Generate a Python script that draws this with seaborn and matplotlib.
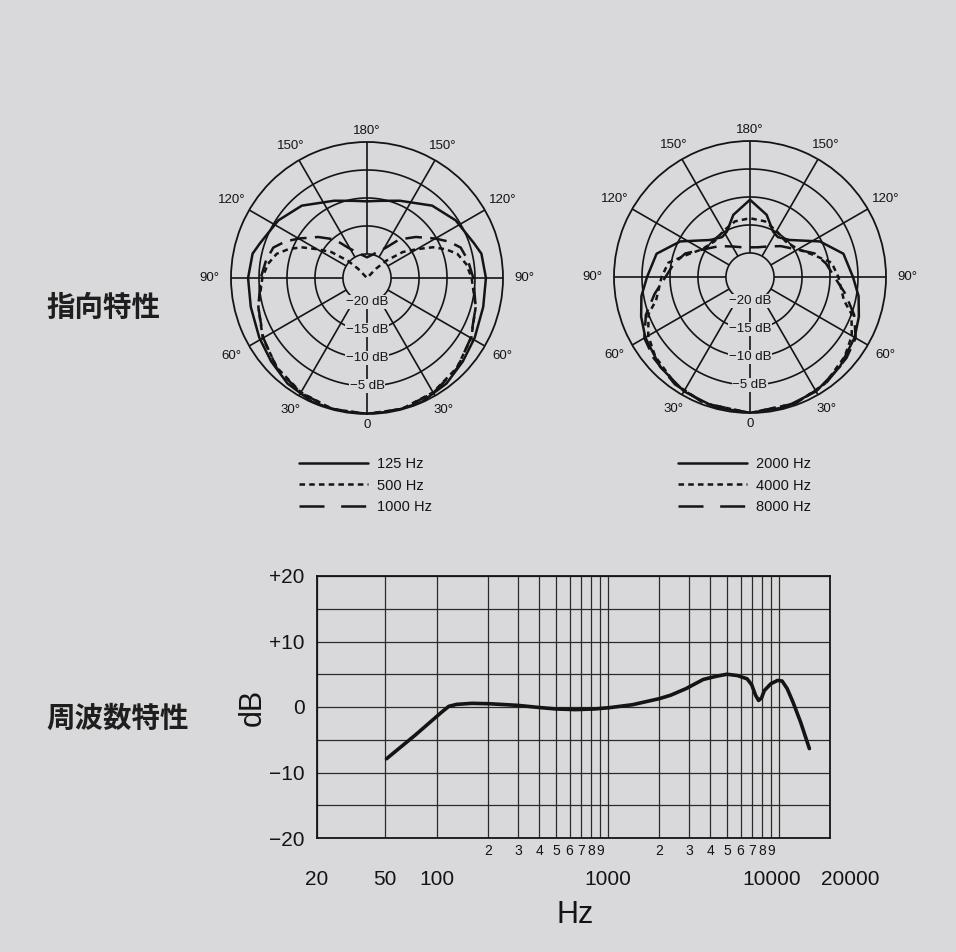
import numpy as np
import matplotlib
matplotlib.use("Agg")
import matplotlib.pyplot as plt
import seaborn as sns
from matplotlib.lines import Line2D
from matplotlib.ticker import FixedLocator, FuncFormatter, NullFormatter
import matplotlib.transforms as mtransforms

sns.set_theme(style="white")
BG = "#d9d9db"
INK = "#141414"
plt.rcParams["font.family"] = ["Liberation Sans", "DejaVu Sans"]
plt.rcParams["lines.scale_dashes"] = False
plt.rcParams["axes.unicode_minus"] = True

# ---------------- data ----------------
# polar patterns (one side, 0..180 deg), dB
angles_125 = [0, 12, 24, 37, 49, 61, 76, 90, 102, 108, 123, 138, 157, 170, 180]
db_125 = [0, 0, -0.1, -0.7, -1.6, -2.3, -2.9, -3.05, -3.4, -4.2, -5.4, -6.9, -9.3, -10.3, -10.6]
angles_500 = [0, 15, 30, 45, 60, 75, 90, 98, 105, 110, 115, 120, 126, 132, 136, 142, 180]
db_500 = [0, -0.1, -0.7, -1.6, -2.8, -4.2, -5.6, -6.4, -7.6, -9.3, -11.3, -14.0, -16.4, -19.7, -22.0, -24.3, -24.3]
angles_1000 = [0, 15, 30, 45, 60, 75, 90, 100, 108, 114, 120, 130, 140, 148, 160, 170, 180]
db_1000 = [0, -0.1, -0.6, -1.5, -2.9, -4.2, -5.3, -6.0, -6.7, -8.3, -10.2, -12.9, -15.3, -17.9, -19.5, -20.2, -20.6]

angles_2000 = [0, 15, 30, 45, 60, 70, 80, 90, 104, 117, 133, 145, 153, 165, 180]
db_2000 = [0, -0.2, -0.7, -1.6, -2.7, -3.6, -4.6, -5.9, -7.1, -10.3, -14.6, -15.6, -15.2, -12.8, -10.5]
angles_4000 = [0, 20, 35, 50, 60, 70, 76, 90, 100, 110, 120, 135, 150, 165, 180]
db_4000 = [0, -0.3, -1.0, -2.2, -3.3, -5.0, -7.0, -8.5, -9.5, -12.5, -14.4, -15.3, -14.8, -14.0, -13.8]
angles_8000 = [0, 20, 35, 50, 60, 70, 80, 90, 100, 110, 120, 135, 150, 165, 180]
db_8000 = [0, -0.3, -0.9, -1.8, -2.5, -4.5, -7.0, -9.2, -10.5, -12.0, -14.5, -16.5, -18.0, -18.8, -19.0]

left_labels = ["125 Hz", "500 Hz", "1000 Hz"]
right_labels = ["2000 Hz", "4000 Hz", "8000 Hz"]
ring_levels = [-20, -15, -10, -5]
angle_ticks = [0, 30, 60, 90, 120, 150, 180, 210, 240, 270, 300, 330]

# frequency response
freq_hz = [51, 75, 107, 118, 131, 161, 203, 299, 407, 500, 647, 837, 1028, 1400, 2005,
           2340, 2876, 3625, 4339, 4986, 5760, 6550, 6966, 7337, 7645, 7960, 8256,
           9015, 9885, 10500, 11240, 12140, 13460, 15150]
resp_db = [-7.9, -4.3, -0.8, 0.1, 0.4, 0.56, 0.5, 0.25, -0.1, -0.3, -0.4, -0.3, -0.1, 0.35, 1.27,
           1.8, 2.8, 4.2, 4.7, 5.0, 4.8, 4.3, 3.4, 1.8, 1.0, 1.4, 2.5,
           3.55, 4.06, 3.96, 2.8, 0.76, -2.3, -6.35]
major_x = [20, 50, 100, 1000, 10000, 20000]
minor_x = [200, 300, 400, 500, 600, 700, 800, 900, 2000, 3000, 4000, 5000, 6000, 7000, 8000, 9000]
y_major = [-20, -10, 0, 10, 20]
y_labels = ["\u221220", "\u221210", "0", "+10", "+20"]
y_minor = [-15, -5, 5, 15]

# ---------------- figure ----------------
W, H = 956, 952
fig = plt.figure(figsize=(W / 100, H / 100), dpi=100, facecolor=BG)

RMIN = -24.3
SHORT = (0, (4, 3))
LONG_POLAR = (0, (12, 6))
LONG_LEG = (0, (18, 12))


def full_curve(angles, vals):
    a = np.array(angles, dtype=float)
    v = np.array(vals, dtype=float)
    aa = np.concatenate([a, 360 - a[::-1][1:]])
    vv = np.concatenate([v, v[::-1][1:]])
    return np.radians(aa), vv


def polar_panel(rect, series, labels, legend_anchor):
    ax = fig.add_axes(rect, projection="polar")
    ax.set_facecolor("none")
    ax.set_theta_zero_location("S")
    ax.set_theta_direction(-1)
    ax.set_ylim(RMIN, 0)
    ax.grid(False)
    ax.set_xticks([])
    ax.set_yticks([])
    ax.spines["polar"].set_linewidth(1.3)
    ax.spines["polar"].set_color(INK)
    circ = np.linspace(0, 2 * np.pi, 721)
    for lv in ring_levels:
        ax.plot(circ, np.full_like(circ, lv), color=INK, lw=1.2, zorder=1)
    ax.vlines(np.radians(angle_ticks), -20, 0, color=INK, lw=1.2, zorder=1)
    styles = ["-", SHORT, LONG_POLAR]
    for (angs, vals), ls in zip(series, styles):
        th, rr = full_curve(angs, vals)
        sns.lineplot(x=th, y=rr, ax=ax, sort=False, estimator=None,
                     color=INK, lw=1.8, linestyle=ls, zorder=3)
    ax.set_xlabel("")
    ax.set_ylabel("")
    for lv in ring_levels:
        ax.text(0, lv, f"\u2212{abs(lv)} dB", ha="center", va="center",
                fontsize=9.5, color=INK, zorder=5,
                bbox=dict(facecolor=BG, edgecolor="none", pad=0.6))
    for t in angle_ticks:
        lab = "0" if t == 0 else f"{min(t, 360 - t)}\u00b0"
        rpos = 1.9 + 2.0 * abs(np.sin(np.radians(t)))
        ax.text(np.radians(t), rpos, lab, ha="center", va="center",
                fontsize=9.5, color=INK, clip_on=False)
    handles = [Line2D([], [], color=INK, lw=1.8, linestyle="-"),
               Line2D([], [], color=INK, lw=1.8, linestyle=SHORT),
               Line2D([], [], color=INK, lw=1.8, linestyle=LONG_LEG)]
    fig.legend(handles, labels, loc="upper left", bbox_to_anchor=legend_anchor,
               bbox_transform=fig.transFigure, frameon=False, fontsize=10.5,
               handlelength=4.7, handletextpad=0.68, labelspacing=0.52,
               borderpad=0, borderaxespad=0, labelcolor=INK)
    return ax


R = 136
polar_panel([(367 - R) / W, 1 - (278 + R) / H, 2 * R / W, 2 * R / H],
            [(angles_125, db_125), (angles_500, db_500), (angles_1000, db_1000)],
            left_labels, (299 / W, 1 - 457 / H))
polar_panel([(750 - R) / W, 1 - (277 + R) / H, 2 * R / W, 2 * R / H],
            [(angles_2000, db_2000), (angles_4000, db_4000), (angles_8000, db_8000)],
            right_labels, (678 / W, 1 - 457 / H))

# ---------------- frequency response ----------------
axf = fig.add_axes([317 / W, 1 - 838 / H, 513 / W, 262 / H])
axf.set_facecolor(BG)
sns.lineplot(x=freq_hz, y=resp_db, ax=axf, color=INK, lw=2.6, sort=True, estimator=None)
axf.set_xscale("log")
axf.set_xlim(20, 20000)
axf.set_ylim(-20, 20)
axf.xaxis.set_major_locator(FixedLocator(major_x))
axf.xaxis.set_major_formatter(FuncFormatter(lambda v, p: f"{int(round(v))}"))
axf.xaxis.set_minor_locator(FixedLocator(minor_x))
axf.xaxis.set_minor_formatter(FuncFormatter(lambda v, p: f"{int(round(v / 10 ** np.floor(np.log10(v) + 1e-9)))}"))
axf.yaxis.set_major_locator(FixedLocator(y_major))
axf.set_yticklabels(y_labels)
axf.yaxis.set_minor_locator(FixedLocator(y_minor))
axf.yaxis.set_minor_formatter(NullFormatter())
axf.tick_params(axis="x", which="major", length=0, pad=23, labelsize=15, colors=INK)
axf.tick_params(axis="x", which="minor", length=0, pad=4, labelsize=10, colors=INK)
axf.tick_params(axis="y", which="both", length=0, pad=9, labelsize=15, colors=INK)
axf.grid(True, which="both", color="#2a2a2a", lw=0.9)
for s in axf.spines.values():
    s.set_visible(True)
    s.set_color(INK)
    s.set_linewidth(1.3)
axf.set_xlabel("")
axf.set_ylabel("")

# shift the edge labels like the reference
fig.canvas.draw()
for lab in axf.get_xticklabels():
    txt = lab.get_text()
    if txt == "10000":
        lab.set_transform(lab.get_transform() + mtransforms.ScaledTranslation(-7 / 100, 0, fig.dpi_scale_trans))
    elif txt == "20000":
        lab.set_transform(lab.get_transform() + mtransforms.ScaledTranslation(20 / 100, 0, fig.dpi_scale_trans))

fig.text(253 / W, 1 - 707 / H, "dB", rotation=90, ha="center", va="center", fontsize=22, color=INK)
fig.text(575 / W, 1 - 915 / H, "Hz", ha="center", va="center", fontsize=22, color=INK)

cjk = ["Noto Sans CJK JP", "DejaVu Sans"]
fig.text(46 / W, 1 - 308 / H, "指向特性", ha="left", va="center", fontsize=20.5,
         fontweight="bold", family=cjk, color="#1e1e1e")
fig.text(46 / W, 1 - 719 / H, "周波数特性", ha="left", va="center", fontsize=20.5,
         fontweight="bold", family=cjk, color="#1e1e1e")

fig.savefig("out.png", dpi=100, facecolor=BG)
